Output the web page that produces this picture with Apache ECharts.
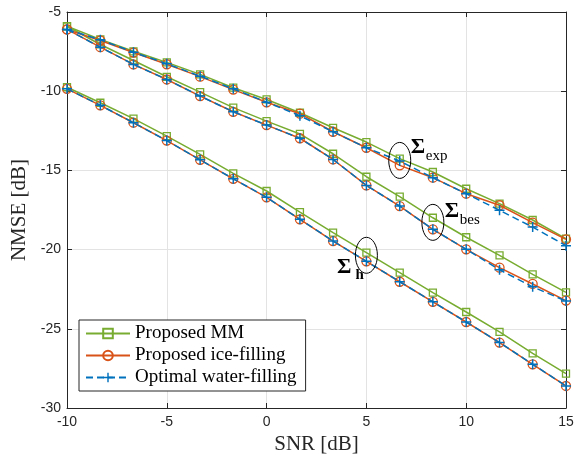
<!DOCTYPE html>
<html>
<head>
<meta charset="utf-8">
<script src="https://cdn.jsdelivr.net/npm/echarts@6/dist/echarts.min.js"></script>
<style>
  html, body { margin: 0; padding: 0; background: #fff; }
  #chart { width: 574px; height: 455px; }
</style>
</head>
<body>
<div id="chart"></div>
<script>
// SNR points (dB)
const snr = [-10, -8.33, -6.67, -5, -3.33, -1.67, 0, 1.67, 3.33, 5, 6.67, 8.33, 10, 11.67, 13.33, 15]

// Sigma_exp
const expMM = [-5.9, -6.73, -7.48, -8.18, -8.94, -9.78, -10.52, -11.36, -12.31, -13.21, -14.26, -15.1, -16.16, -17.1, -18.13, -19.31]
const expIce = [-6.1, -6.8, -7.56, -8.3, -9.08, -9.9, -10.7, -11.42, -12.56, -13.57, -14.68, -15.46, -16.47, -17.2, -18.3, -19.35]
const expWater = [-6.1, -6.75, -7.54, -8.27, -9.05, -9.85, -10.69, -11.55, -12.56, -13.57, -14.41, -15.46, -16.47, -17.52, -18.58, -19.75]

// Sigma_bes
const besMM = [-5.9, -7.05, -8.06, -9.09, -10.06, -11.04, -11.89, -12.7, -13.95, -15.4, -16.66, -17.99, -19.22, -20.36, -21.56, -22.7]
const besIce = [-6.1, -7.22, -8.31, -9.26, -10.31, -11.3, -12.14, -12.97, -14.31, -15.95, -17.25, -18.72, -19.98, -21.14, -22.17, -23.22]
const besWater = [-6.1, -7.22, -8.31, -9.26, -10.31, -11.3, -12.14, -12.97, -14.31, -15.95, -17.25, -18.72, -19.98, -21.27, -22.35, -23.25]

// Sigma_h
const hMM = [-9.75, -10.73, -11.73, -12.84, -13.99, -15.19, -16.3, -17.63, -18.93, -20.19, -21.45, -22.72, -23.94, -25.2, -26.55, -27.83]
const hIce = [-9.85, -10.89, -11.99, -13.12, -14.33, -15.53, -16.7, -18.09, -19.46, -20.74, -22.03, -23.3, -24.57, -25.87, -27.24, -28.61]
const hWater = [-9.85, -10.89, -11.99, -13.12, -14.33, -15.53, -16.7, -18.09, -19.46, -20.74, -22.03, -23.3, -24.57, -25.87, -27.24, -28.61]

const legendNames = ['Proposed MM', 'Proposed ice-filling', 'Optimal water-filling']

// annotation ellipses (data coords) and their labels
const annotX = [6.67, 8.33, 5]
const annotY = [-14.37, -18.28, -20.36]
const annotSub = ['exp', 'bes', 'h']

const GREEN = '#77AC30'
const ORANGE = '#D95319'
const BLUE = '#0072BD'
const AXIS = '#262626'
const SERIF = '"Liberation Serif", "DejaVu Serif", serif'
const SANS = '"Liberation Sans", Arial, sans-serif'
const PLUS = 'path://M4.25,0H5.75V4.25H10V5.75H5.75V10H4.25V5.75H0V4.25H4.25Z'

// label placement per annotation: [sigmaDx, sigmaDy, subDx, subDy, sigmaAlign]
const labelPos = [
  [11, -13, 26, -4, 'left'],
  [12, -11, 27, -2, 'left'],
  [-15, 12, -11, 20, 'right']
]

const pairs = ys => snr.map((x, i) => [x, ys[i]])

const mmSeries = ys => ({
  name: legendNames[0],
  type: 'line',
  data: pairs(ys),
  symbol: 'rect',
  symbolSize: 7,
  lineStyle: { color: GREEN, width: 1.5 },
  itemStyle: { color: 'rgba(0,0,0,0)', borderColor: GREEN, borderWidth: 1.3 },
  color: GREEN,
  z: 2
})
const iceSeries = ys => ({
  name: legendNames[1],
  type: 'line',
  data: pairs(ys),
  symbol: 'circle',
  symbolSize: 9,
  lineStyle: { color: ORANGE, width: 1.5 },
  itemStyle: { color: 'rgba(0,0,0,0)', borderColor: ORANGE, borderWidth: 1.3 },
  color: ORANGE,
  z: 3
})
const waterSeries = ys => ({
  name: legendNames[2],
  type: 'line',
  data: pairs(ys),
  symbol: PLUS,
  symbolSize: 10,
  lineStyle: { color: BLUE, width: 1.5, type: [7, 4] },
  itemStyle: { color: BLUE, borderWidth: 0 },
  color: BLUE,
  z: 4
})

const axisLine = { show: true, onZero: false, lineStyle: { color: AXIS, width: 1 } }
const axisTick = { show: true, inside: true, length: 5, lineStyle: { color: AXIS } }
const gridLine = { show: true, lineStyle: { color: '#e3e3e3', width: 1 } }

const chart = echarts.init(document.getElementById('chart'))

const option = {
  animation: false,
  backgroundColor: '#fff',
  grid: { left: 67, right: 8, top: 12, bottom: 47, outerBoundsMode: 'none' },
  legend: {
    data: legendNames,
    orient: 'vertical',
    left: 79,
    top: 320,
    padding: [4, 9, 4, 6],
    itemGap: 3,
    itemWidth: 44,
    itemHeight: 12,
    borderColor: AXIS,
    borderWidth: 1,
    backgroundColor: '#fff',
    textStyle: { fontFamily: SERIF, fontSize: 19, color: '#000', lineHeight: 19 }
  },
  xAxis: [
    {
      type: 'value', min: -10, max: 15, interval: 5,
      name: 'SNR [dB]', nameLocation: 'middle', nameGap: 18,
      nameTextStyle: { fontFamily: SERIF, fontSize: 21, color: AXIS },
      axisLine, axisTick,
      axisLabel: { fontFamily: SANS, fontSize: 14, color: AXIS, margin: 7 },
      splitLine: gridLine
    },
    {
      type: 'value', min: -10, max: 15, interval: 5, position: 'top',
      axisLine, axisTick,
      axisLabel: { show: false },
      splitLine: { show: false }
    }
  ],
  yAxis: [
    {
      type: 'value', min: -30, max: -5, interval: 5,
      name: 'NMSE [dB]', nameLocation: 'middle', nameGap: 37,
      nameTextStyle: { fontFamily: SERIF, fontSize: 21, color: AXIS },
      axisLine, axisTick,
      axisLabel: { fontFamily: SANS, fontSize: 14, color: AXIS, margin: 6 },
      splitLine: gridLine
    },
    {
      type: 'value', min: -30, max: -5, interval: 5, position: 'right',
      axisLine, axisTick,
      axisLabel: { show: false },
      splitLine: { show: false }
    }
  ],
  series: [
    mmSeries(expMM), iceSeries(expIce), waterSeries(expWater),
    mmSeries(besMM), iceSeries(besIce), waterSeries(besWater),
    mmSeries(hMM), iceSeries(hIce), waterSeries(hWater),
    {
      type: 'custom',
      silent: true,
      z: 10,
      data: annotX.map((x, i) => [x, annotY[i], i]),
      renderItem: (params, api) => {
        const i = api.value(2)
        const c = api.coord([api.value(0), api.value(1)])
        const p = labelPos[i]
        return {
          type: 'group',
          children: [
            {
              type: 'ellipse',
              shape: { cx: c[0], cy: c[1], rx: 11, ry: 18 },
              style: { fill: 'none', stroke: '#000', lineWidth: 1 }
            },
            {
              type: 'text',
              x: c[0] + p[0], y: c[1] + p[1],
              style: {
                text: 'Σ', fill: '#000', align: p[4], verticalAlign: 'middle',
                font: 'bold 22px ' + SERIF
              }
            },
            {
              type: 'text',
              x: c[0] + p[2], y: c[1] + p[3],
              style: {
                text: annotSub[i], fill: '#000', align: 'left', verticalAlign: 'middle',
                font: (annotSub[i] === 'h' ? 'bold ' : '') + '15px ' + SERIF
              }
            }
          ]
        }
      }
    }
  ]
}

chart.setOption(option)
</script>
</body>
</html>
